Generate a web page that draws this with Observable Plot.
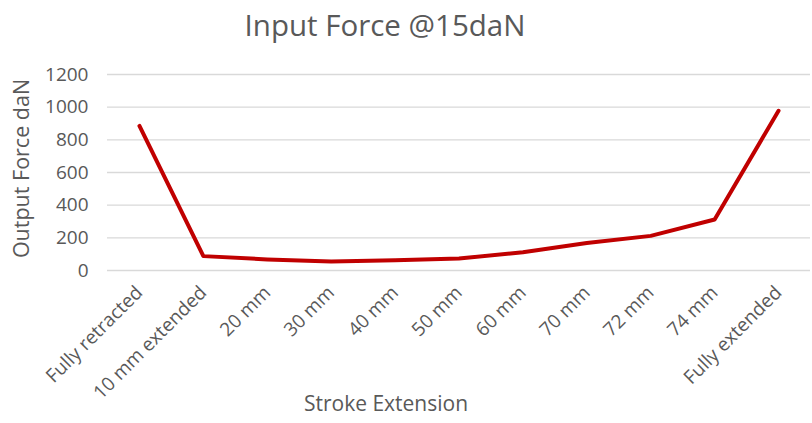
<!DOCTYPE html>
<html><head><meta charset="utf-8">
<script src="https://cdn.jsdelivr.net/npm/d3@7"></script>
<script src="https://cdn.jsdelivr.net/npm/@observablehq/plot@0.6"></script>
<style>body{margin:0;background:#fff}</style>
</head><body><div id="chart"></div>
<script>
const categories = ["Fully retracted", "10 mm extended", "20 mm", "30 mm", "40 mm", "50 mm", "60 mm", "70 mm", "72 mm", "74 mm", "Fully extended"];
const forces = [885, 88, 68, 55, 63, 73, 112, 168, 212, 312, 978];
const yTicks = [0, 200, 400, 600, 800, 1000, 1200];
const title = "Input Force @15daN";
const xLabel = "Stroke Extension";
const yLabel = "Output Force daN";

const data = categories.map((c, i) => ({stage: c, force: forces[i]}));

const chart = Plot.plot({
  width: 812, height: 423,
  marginLeft: 107, marginRight: 2, marginTop: 74, marginBottom: 153,
  style: {fontFamily: "Open Sans", color: "#595959", background: "#fff"},
  x: {type: "point", domain: categories, padding: 0.5, round: false},
  y: {domain: [0, 1200]},
  marks: [
    Plot.gridY(yTicks, {stroke: "#d9d9d9", strokeOpacity: 1, strokeWidth: 1.3}),
    Plot.axisY(yTicks, {tickSize: 0, tickPadding: 19, label: null, fontSize: 19, fill: "#595959", tickFormat: d => String(d)}),
    Plot.axisX({tickRotate: -45, tickSize: 0, tickPadding: 19, label: null, fontSize: 19, fill: "#595959"}),
    Plot.line(data, {x: "stage", y: "force", stroke: "#c00000", strokeWidth: 4, strokeLinejoin: "round"}),
    Plot.text([title], {frameAnchor: "top", lineAnchor: "bottom", dx: -74, dy: -39, fontSize: 29.5, fill: "#595959"}),
    Plot.text([yLabel], {frameAnchor: "left", textAnchor: "middle", rotate: -90, dx: -85, dy: -4, fontSize: 21.5, fill: "#595959"}),
    Plot.text([xLabel], {frameAnchor: "bottom", dx: -73, dy: 140, fontSize: 21, fill: "#595959"})
  ]
});
document.getElementById("chart").appendChild(chart);
</script>
</body></html>
